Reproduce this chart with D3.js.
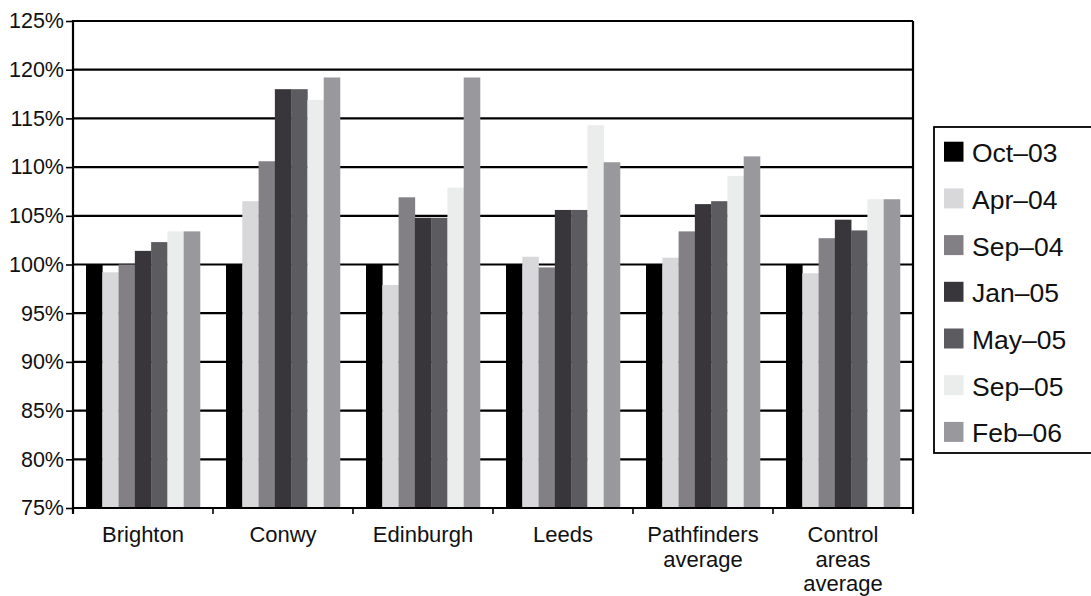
<!DOCTYPE html>
<html>
<head>
<meta charset="utf-8">
<script src="https://cdn.jsdelivr.net/npm/d3@7/dist/d3.min.js"></script>
<style>
  html, body { margin: 0; padding: 0; background: #fff; }
  svg { display: block; font-family: "Liberation Sans", Arial, Helvetica, sans-serif; }
</style>
</head>
<body>
<svg id="chart" width="1091" height="596"></svg>
<script>
// Areas (x categories), each label split into lines
const categories = ["Brighton", "Conwy", "Edinburgh", "Leeds", "Pathfinders average", "Control areas average"];
const categoryLines = [["Brighton"], ["Conwy"], ["Edinburgh"], ["Leeds"], ["Pathfinders", "average"], ["Control", "areas", "average"]];

// Survey waves (series)
const series = ["Oct–03", "Apr–04", "Sep–04", "Jan–05", "May–05", "Sep–05", "Feb–06"];
const seriesColors = ["#000000", "#d8d8da", "#828085", "#38363a", "#5c5b60", "#ebecec", "#99989c"];

// Index values (%) relative to Oct-03, one array per wave
const oct03 = [100.0, 100.0, 100.0, 100.0, 100.0, 100.0];
const apr04 = [99.2, 106.5, 97.9, 100.8, 100.7, 99.1];
const sep04 = [100.0, 110.6, 106.9, 99.7, 103.4, 102.7];
const jan05 = [101.4, 118.0, 104.8, 105.6, 106.2, 104.6];
const may05 = [102.3, 118.0, 104.8, 105.6, 106.5, 103.5];
const sep05 = [103.4, 116.9, 107.9, 114.3, 109.1, 106.7];
const feb06 = [103.4, 119.2, 119.2, 110.5, 111.1, 106.7];
const seriesValues = [oct03, apr04, sep04, jan05, may05, sep05, feb06];

const yTicks = [75, 80, 85, 90, 95, 100, 105, 110, 115, 120, 125];

const svg = d3.select("#chart");
const plotLeft = 73, plotRight = 913, plotTop = 21, plotBottom = 508;

const x0 = d3.scaleBand().domain(categories).range([plotLeft, plotRight]).paddingInner(0.186).paddingOuter(0.093);
const x1 = d3.scaleBand().domain(series).range([0, x0.bandwidth()]);
const y = d3.scaleLinear().domain([75, 125]).range([plotBottom, plotTop]);
const color = d3.scaleOrdinal().domain(series).range(seriesColors);

// Horizontal gridlines
svg.append("g").selectAll("line").data(yTicks.slice(1)).join("line")
  .attr("x1", plotLeft).attr("x2", plotRight)
  .attr("y1", d => y(d)).attr("y2", d => y(d))
  .attr("stroke", "#000").attr("stroke-width", 2.2);

// Bars
const groups = svg.append("g").selectAll("g").data(categories).join("g")
  .attr("transform", c => `translate(${x0(c)},0)`);
groups.selectAll("rect")
  .data((c, ci) => series.map((s, si) => ({ s, v: seriesValues[si][ci] })))
  .join("rect")
  .attr("x", d => x1(d.s))
  .attr("width", x1.bandwidth() + 0.3)
  .attr("y", d => y(d.v))
  .attr("height", d => y(75) - y(d.v))
  .attr("fill", d => color(d.s));

// Right border
svg.append("line")
  .attr("x1", plotRight).attr("x2", plotRight).attr("y1", plotTop).attr("y2", plotBottom + 6)
  .attr("stroke", "#000").attr("stroke-width", 2.2);

// Y axis
const yAxis = svg.append("g")
  .attr("transform", `translate(${plotLeft},0)`)
  .call(d3.axisLeft(y).tickValues(yTicks).tickFormat(d => d + "%").tickSize(7).tickPadding(2).tickSizeOuter(0));
yAxis.select(".domain").remove();
yAxis.selectAll(".tick line").attr("stroke", "#000").attr("stroke-width", 1.6);
yAxis.selectAll(".tick text").attr("font-size", 21.5).attr("fill", "#111")
  .attr("font-family", "'Liberation Sans', Arial, sans-serif");
svg.append("line")
  .attr("x1", plotLeft).attr("x2", plotLeft).attr("y1", plotTop - 1).attr("y2", plotBottom + 6)
  .attr("stroke", "#000").attr("stroke-width", 2.2);

// X axis baseline and group-boundary ticks
svg.append("line")
  .attr("x1", plotLeft).attr("x2", plotRight).attr("y1", plotBottom).attr("y2", plotBottom)
  .attr("stroke", "#000").attr("stroke-width", 2.2);
const bounds = categories.slice(1).map(c => x0(c) - x0.step() * x0.paddingInner() / 2);
svg.append("g").selectAll("line").data(bounds).join("line")
  .attr("x1", d => d).attr("x2", d => d)
  .attr("y1", plotBottom).attr("y2", plotBottom + 6)
  .attr("stroke", "#000").attr("stroke-width", 1.6);

// Category labels
const catLabels = svg.append("g").selectAll("text").data(categories).join("text")
  .attr("x", c => x0(c) + x0.bandwidth() / 2)
  .attr("y", 542)
  .attr("text-anchor", "middle")
  .attr("font-size", 22)
  .attr("fill", "#111");
catLabels.selectAll("tspan").data((c, i) => categoryLines[i]).join("tspan")
  .attr("x", function () { return this.parentNode.getAttribute("x"); })
  .attr("dy", (d, i) => i === 0 ? 0 : 24.7)
  .text(d => d);

// Legend
const legend = svg.append("g");
legend.append("rect")
  .attr("x", 934).attr("y", 127).attr("width", 200).attr("height", 326)
  .attr("fill", "#fff").attr("stroke", "#000").attr("stroke-width", 1.8);
const items = legend.selectAll("g.item").data(series).join("g").attr("class", "item")
  .attr("transform", (d, i) => `translate(944,${141.7 + i * 46.7})`);
items.append("rect").attr("width", 19.5).attr("height", 20).attr("fill", d => color(d));
items.append("text").attr("x", 28).attr("y", 20.5)
  .attr("font-size", 26.5).attr("fill", "#111").text(d => d);
</script>
</body>
</html>
